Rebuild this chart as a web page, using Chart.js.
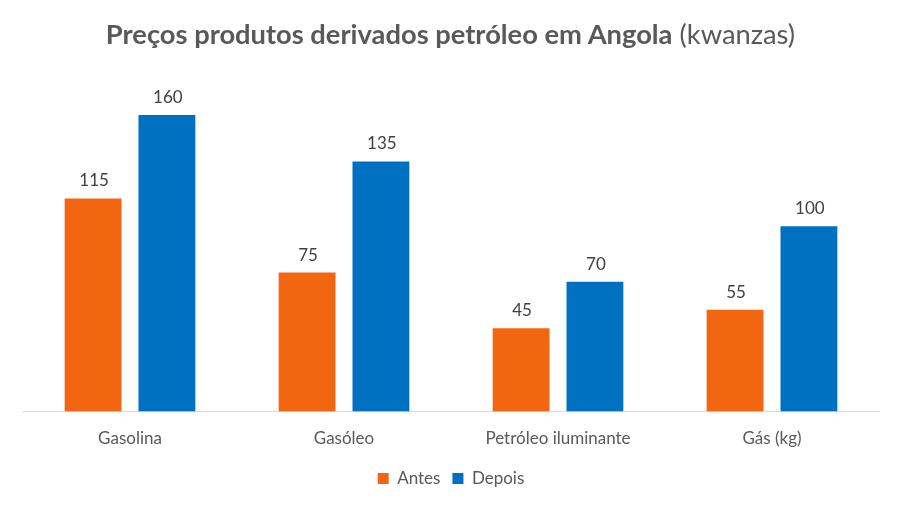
<!DOCTYPE html>
<html>
<head>
<meta charset="utf-8">
<script src="https://cdn.jsdelivr.net/npm/chart.js@4"></script>
<style>
  body { margin: 0; background: #fff; }
  #wrap { position: relative; width: 901px; height: 509px; }
  #titulo {
    position: absolute; top: 17px; left: 0; width: 901px; text-align: center;
    font-family: Lato, "Open Sans", sans-serif; font-size: 27.3px; color: #595959;
  }
  #titulo b { font-weight: bold; }
  #titulo span { font-weight: normal; }
</style>
</head>
<body>
<div id="wrap">
  <div id="titulo"><b>Preços produtos derivados petróleo em Angola</b> <span>(kwanzas)</span></div>
  <canvas id="grafico" width="901" height="509"></canvas>
</div>
<script>
const produtos = ["Gasolina", "Gasóleo", "Petróleo iluminante", "Gás (kg)"];
const antes = [115, 75, 45, 55];
const depois = [160, 135, 70, 100];

// valores por cima das barras
const rotulos = {
  id: "rotulos",
  afterDatasetsDraw(chart) {
    const ctx = chart.ctx;
    ctx.save();
    ctx.font = "17px Lato, 'Open Sans', sans-serif";
    ctx.fillStyle = "#404040";
    ctx.textAlign = "center";
    ctx.textBaseline = "bottom";
    chart.data.datasets.forEach((ds, i) => {
      chart.getDatasetMeta(i).data.forEach((bar, j) => {
        ctx.fillText(ds.data[j], bar.x + 1, bar.y - 9);
      });
    });
    ctx.restore();
  }
};

const ctx = document.getElementById("grafico").getContext("2d");
new Chart(ctx, {
  type: "bar",
  data: {
    labels: produtos,
    datasets: [
      { label: "Antes", data: antes, backgroundColor: "#F26611" },
      { label: "Depois", data: depois, backgroundColor: "#0070C0" }
    ]
  },
  options: {
    responsive: false,
    animation: false,
    layout: { padding: { top: 78, left: 23, right: 22, bottom: 12 } },
    datasets: { bar: { categoryPercentage: 0.69, barPercentage: 0.77 } },
    scales: {
      x: {
        grid: { display: false },
        border: { color: "#d9d9d9" },
        ticks: { color: "#595959", font: { family: "Lato, 'Open Sans', sans-serif", size: 17 }, padding: 9 }
      },
      y: { display: false, min: 0, max: 180 }
    },
    plugins: {
      legend: {
        position: "bottom",
        labels: {
          color: "#595959",
          font: { family: "Lato, 'Open Sans', sans-serif", size: 17 },
          boxWidth: 11, boxHeight: 11, padding: 12
        }
      },
      tooltip: { enabled: false }
    }
  },
  plugins: [rotulos]
});
</script>
</body>
</html>
